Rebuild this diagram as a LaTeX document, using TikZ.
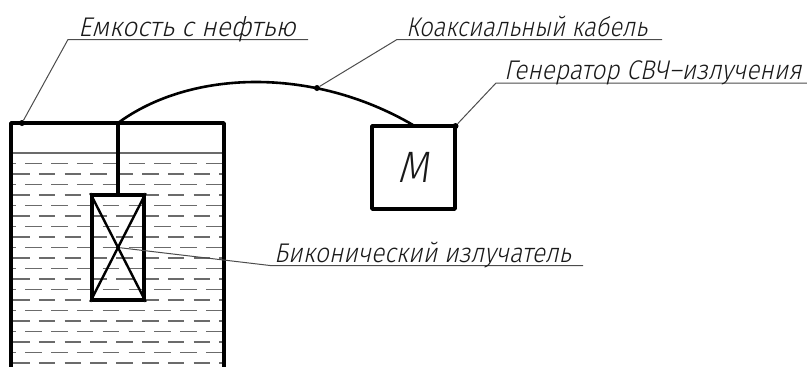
\documentclass[tikz,border=0pt]{standalone}
\usepackage{fontspec}
\newfontfamily\gost[FakeSlant=0.22,FakeStretch=0.92]{Fira Sans Light}
\definecolor{liquid}{gray}{0.42}
\definecolor{leader}{gray}{0.3}
\tikzset{
  heavy/.style={draw=black,line width=3.6pt,line join=round},
  thin leader/.style={draw=leader,line width=1pt},
  lbl/.style={anchor=base west,inner sep=0pt,transform shape,font=\gost\fontsize{27}{27}\selectfont,text=black!90},
  dotmark/.style={circle,fill=black,inner sep=0pt,minimum size=6pt},
  sqbox/.style={heavy,rectangle,inner sep=0pt,fill=none},
  rowA/.style={draw=liquid,line width=1.2pt,dash pattern=on 16.5pt off 9.3pt,dash phase=0pt},
  rowB/.style={draw=liquid,line width=1.2pt,dash pattern=on 16.5pt off 9.3pt,dash phase=12.5pt}
}
\begin{document}
\begin{tikzpicture}[x=1pt,y=-1pt]
\useasboundingbox (0,0) rectangle (807,367);
% liquid
\draw[draw=liquid,line width=1.8pt] (12,152.7) -- (223,152.7);
\foreach \i in {0,...,9}{
  \draw[rowB] (12,{163.3+21*\i}) -- (223,{163.3+21*\i});
  \draw[rowA] (13,{173.9+21*\i}) -- (223,{173.9+21*\i});
}
% tank
\coordinate (tankBL) at (11,367);
\coordinate (tankTL) at (11,123);
\coordinate (tankTR) at (224,123);
\coordinate (tankBR) at (224,367);
\draw[heavy] (tankBL) -- (tankTL) -- (tankTR) -- (tankBR);
% emitter
\node[sqbox,minimum width=52pt,minimum height=105pt] (emit) at (118,247.5) {};
\coordinate (stemTop) at (118,123);
\draw[heavy] (stemTop) -- (emit.north);
\draw[draw=black,line width=2.4pt] (emit.north west) -- (emit.south east);
\draw[draw=black,line width=2.4pt] (emit.north east) -- (emit.south west);
% generator
\node[sqbox,minimum width=83pt,minimum height=83pt] (gen) at (413.5,167.5) {};
\node[inner sep=0pt,font=\gost\fontsize{44}{44}\selectfont,text=black!90] (m) at (gen.center) {М};
% cable
\coordinate (cableEnd) at (413,125);
\draw[draw=black,line width=2.6pt] (stemTop) .. controls (190,70) and (312,66) .. (cableEnd);
% leaders
\coordinate (l1) at (68,39.5);
\coordinate (l1e) at (308,39.5);
\node[dotmark] (d1) at (22,123) {};
\draw[thin leader] (d1) -- (l1) -- (l1e);
\node[lbl,xscale=1.06] (t1) at (78,36) {Емкость с нефтью};
\coordinate (l2) at (397,39.5);
\coordinate (l2e) at (662,39.5);
\node[dotmark] (d2) at (317,88) {};
\draw[thin leader] (d2) -- (l2) -- (l2e);
\node[lbl,xscale=0.955] (t2) at (406,36) {Коаксиальный кабель};
\coordinate (l3) at (496,83);
\coordinate (l3e) at (807,83);
\node[dotmark] (d3) at (455.5,126) {};
\draw[thin leader] (d3) -- (l3) -- (l3e);
\node[lbl,xscale=0.985] (t3) at (504,79) {Генератор СВЧ–излучения};
\coordinate (l4) at (270,265.5);
\coordinate (l4e) at (583,265.5);
\node[dotmark,minimum size=4pt] (d4) at (emit.center) {};
\draw[thin leader] (d4) -- (l4) -- (l4e);
\node[lbl,xscale=0.99] (t4) at (274,262) {Биконический излучатель};
\end{tikzpicture}
\end{document}
